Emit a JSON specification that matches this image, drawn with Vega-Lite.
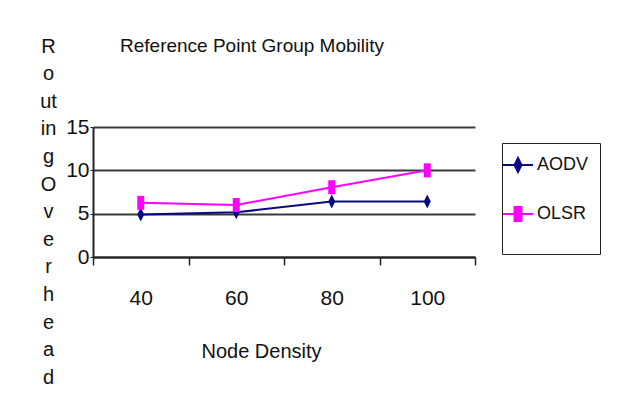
{
  "$schema": "https://vega.github.io/schema/vega-lite/v6.json",
  "width": 382,
  "height": 130,
  "autosize": {"type": "none"},
  "padding": {"left": 93, "top": 127, "right": 145, "bottom": 149},
  "background": "white",
  "config": {
    "view": {"stroke": null},
    "font": "Liberation Sans, Arial, sans-serif"
  },
  "title": {
    "text": "Reference Point Group Mobility",
    "font": "Liberation Sans, Arial, sans-serif",
    "fontSize": 19,
    "fontWeight": "normal",
    "color": "#111",
    "anchor": "middle",
    "baseline": "bottom",
    "offset": -39,
    "dx": -32
  },
  "data": {
    "values": [
      {"density": "40", "protocol": "AODV", "overhead": 4.9},
      {"density": "60", "protocol": "AODV", "overhead": 5.15},
      {"density": "80", "protocol": "AODV", "overhead": 6.4},
      {"density": "100", "protocol": "AODV", "overhead": 6.4},
      {"density": "40", "protocol": "OLSR", "overhead": 6.25},
      {"density": "60", "protocol": "OLSR", "overhead": 6.0},
      {"density": "80", "protocol": "OLSR", "overhead": 8.05},
      {"density": "100", "protocol": "OLSR", "overhead": 10.0}
    ]
  },
  "encoding": {
    "x": {
      "field": "density",
      "type": "ordinal",
      "sort": ["40", "60", "80", "100"],
      "scale": {"paddingInner": 0, "paddingOuter": 0},
      "axis": {
        "title": "Node Density",
        "titleFont": "Liberation Sans, Arial, sans-serif",
        "titleFontSize": 20,
        "titleFontWeight": "normal",
        "titleColor": "#111",
        "titleX": 168,
        "titleY": 84,
        "titleAlign": "center",
        "titleBaseline": "top",
        "labelAngle": 0,
        "labelFontSize": 21,
        "labelColor": "#111",
        "labelPadding": 22,
        "tickBand": "extent",
        "tickSize": 8,
        "tickColor": "#222",
        "tickWidth": 1.5,
        "domainColor": "#222",
        "domainWidth": 2,
        "grid": false
      }
    },
    "y": {
      "field": "overhead",
      "type": "quantitative",
      "scale": {"domain": [0, 15], "nice": false},
      "axis": {
        "values": [0, 5, 10, 15],
        "title": ["R", "o", "ut", "in", "g", "O", "v", "e", "r", "h", "e", "a", "d"],
        "titleFont": "Liberation Sans, Arial, sans-serif",
        "titleFontSize": 20,
        "titleFontWeight": "normal",
        "titleColor": "#111",
        "titleAngle": 0,
        "titleAlign": "center",
        "titleBaseline": "top",
        "titleLineHeight": 27.6,
        "titleX": -45,
        "titleY": -91,
        "labelFontSize": 21,
        "labelColor": "#111",
        "labelPadding": 1,
        "tickSize": 3,
        "tickColor": "#222",
        "domainColor": "#222",
        "domainWidth": 2,
        "grid": true,
        "gridColor": "#3a3a3a",
        "gridWidth": 2,
        "gridOpacity": 1
      }
    },
    "color": {
      "field": "protocol",
      "type": "nominal",
      "scale": {"domain": ["AODV", "OLSR"], "range": ["#0a0a80", "#ff00ff"]},
      "legend": null
    }
  },
  "layer": [
    {
      "mark": {"type": "line", "strokeWidth": 2},
      "encoding": {
        "color": {
          "field": "protocol",
          "type": "nominal",
          "legend": {
            "orient": "none",
            "legendX": 409,
            "legendY": 16,
            "title": " ",
            "titleOrient": "bottom",
            "titleFontSize": 14,
            "titlePadding": 4,
            "strokeColor": "#222",
            "padding": 11,
            "labelFont": "Liberation Sans, Arial, sans-serif",
            "labelFontSize": 18,
            "labelColor": "#111",
            "labelOffset": 8,
            "rowPadding": 27,
            "symbolSize": 400,
            "symbolOffset": -6,
            "symbolStrokeWidth": 2,
            "encode": {
              "symbols": {
                "update": {
                  "shape": {"signal": "datum.value === 'AODV' ? 'M-1.5,0H1.5M0,-0.7L0.35,0L0,0.7L-0.35,0Z' : 'M-1.5,0H1.5M-0.35,-0.7H0.35V0.7H-0.35Z'"},
                  "fill": {"signal": "datum.value === 'AODV' ? '#0a0a80' : '#ff00ff'"},
                  "stroke": {"signal": "datum.value === 'AODV' ? '#2a2a8a' : '#ff00ff'"},
                  "strokeWidth": {"value": 2},
                  "opacity": {"value": 1},
                  "fillOpacity": {"value": 1}
                }
              }
            }
          }
        }
      }
    },
    {
      "transform": [{"filter": "datum.protocol === 'AODV'"}],
      "mark": {"type": "point", "filled": true, "opacity": 1, "size": 400, "shape": "M0,-0.7L0.35,0L0,0.7L-0.35,0Z"}
    },
    {
      "transform": [{"filter": "datum.protocol === 'OLSR'"}],
      "mark": {"type": "point", "filled": true, "opacity": 1, "size": 400, "shape": "M-0.35,-0.7H0.35V0.7H-0.35Z"}
    }
  ]
}
